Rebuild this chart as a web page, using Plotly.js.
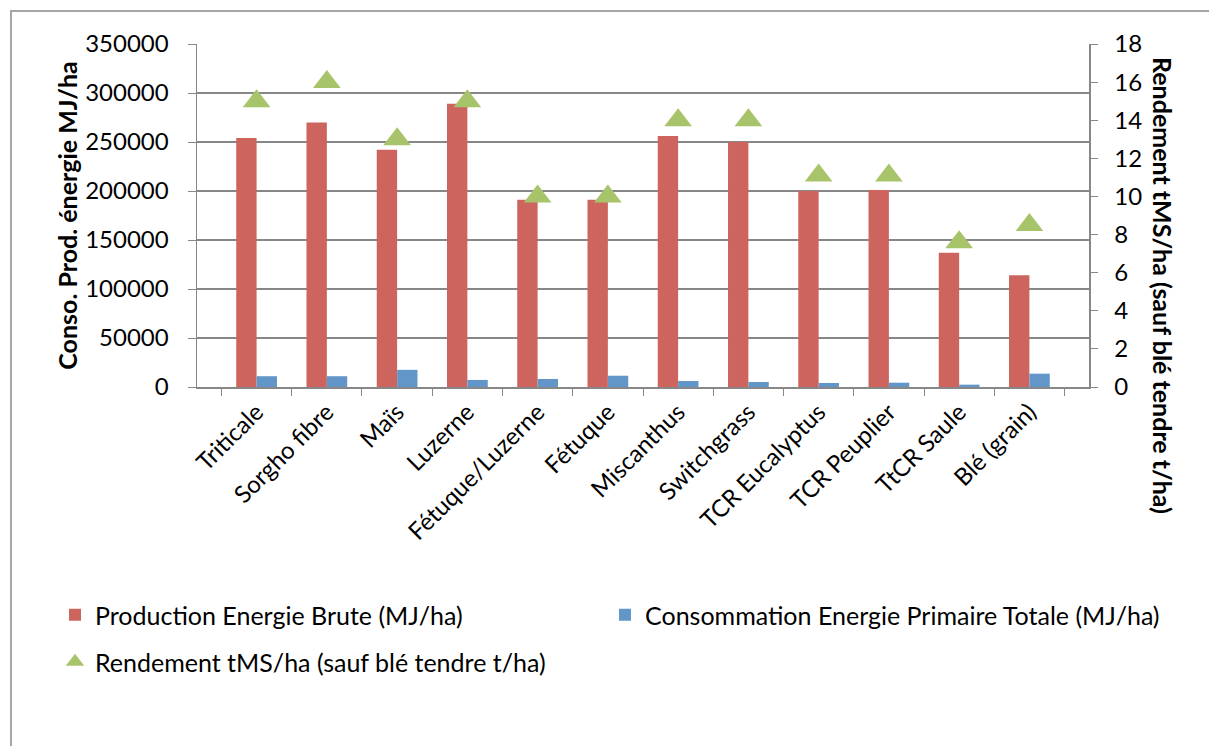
<!DOCTYPE html>
<html>
<head>
<meta charset="utf-8">
<script src="https://cdn.plot.ly/plotly-3.0.1.min.js"></script>
<style>html,body{margin:0;padding:0;background:#fff;}#chart{width:1209px;height:746px;}</style>
</head>
<body>
<div id="chart"></div>
<script>
const categories = ["Triticale", "Sorgho fibre", "Maïs", "Luzerne", "Fétuque/Luzerne", "Fétuque", "Miscanthus", "Switchgrass", "TCR Eucalyptus", "TCR Peuplier", "TtCR Saule", "Blé (grain)"];
const productionBrute = [254000, 270000, 242000, 289000, 191000, 191000, 256000, 250000, 200000, 201000, 137000, 114000];
const consoPrimaire = [11000, 11000, 17500, 7200, 8200, 11500, 6100, 5100, 4100, 4400, 2400, 13600];
const rendement = [15, 16, 13, 15, 10, 10, 14, 14, 11.1, 11.1, 7.6, 8.5];
const leftTicks = [0, 50000, 100000, 150000, 200000, 250000, 300000, 350000];
const rightTicks = [0, 2, 4, 6, 8, 10, 12, 14, 16, 18];

const FONT = "Lato, 'Open Sans', sans-serif";
const W = 1209, H = 746;
const PL = 197, PR = 1089, PT = 44, PB = 387;
const px2x = p => (p - PL) / (PR - PL);
const py2y = p => (PB - p) / (PB - PT);

const traces = [
  {type: "bar", name: "Production Energie Brute (MJ/ha)", x: categories, y: productionBrute,
   marker: {color: "rgb(205,101,94)"}, legend: "legend", yaxis: "y", showlegend: true},
  {type: "bar", name: "Consommation Energie Primaire Totale (MJ/ha)", x: categories, y: consoPrimaire,
   marker: {color: "rgb(98,150,200)"}, legend: "legend2", yaxis: "y", showlegend: true},
  {type: "scatter", mode: "markers", name: "Rendement tMS/ha (sauf blé tendre t/ha)", x: categories, y: rendement,
   marker: {symbol: "triangle-up", size: 24, color: "rgb(168,196,106)", line: {width: 0}},
   legend: "legend3", yaxis: "y2", showlegend: true}
];

const gridGray = "rgb(135,135,135)";
const TICKF = {family: FONT, size: 24, color: "#000"};
const legendBase = {orientation: "h", xref: "container", yref: "container", xanchor: "left", yanchor: "middle",
  font: {family: FONT, size: 25, color: "#000"}, bgcolor: "rgba(0,0,0,0)", borderwidth: 0, itemwidth: 30};

const layout = {
  width: W, height: H,
  showlegend: true,
  margin: {l: PL, r: W - PR, t: PT, b: H - PB},
  paper_bgcolor: "#fff", plot_bgcolor: "#fff",
  font: {family: FONT, size: 24, color: "#000"},
  barmode: "group", bargap: 0.42, bargroupgap: 0,
  xaxis: {type: "category", tickangle: -45, tickson: "boundaries", ticks: "outside", ticklen: 7,
    tickcolor: gridGray, showline: true, linecolor: gridGray, linewidth: 1.5, showgrid: false,
    tickfont: TICKF, automargin: false},
  yaxis: {range: [0, 350000], tickvals: leftTicks, ticktext: leftTicks.map(String), ticks: "outside", ticklen: 8,
    tickcolor: gridGray, showline: true, linecolor: gridGray, linewidth: 1.5, showgrid: true,
    gridcolor: gridGray, gridwidth: 1.6, zeroline: false, tickfont: TICKF, ticklabelstandoff: 14,
    title: {text: "<b>Conso. Prod. énergie MJ/ha</b>", font: {family: FONT, size: 25, color: "#000"}, standoff: 0},
    automargin: false},
  yaxis2: {range: [0, 18], tickvals: rightTicks, ticktext: rightTicks.map(String), overlaying: "y", side: "right",
    ticks: "outside", ticklen: 7, tickcolor: gridGray, showline: true, linecolor: gridGray, linewidth: 1.5,
    showgrid: false, zeroline: false, tickfont: TICKF, ticklabelstandoff: 12, automargin: false},
  legend: Object.assign({}, legendBase, {x: 55 / W, y: 1 - 615 / H}),
  legend2: Object.assign({}, legendBase, {x: 605 / W, y: 1 - 615 / H}),
  legend3: Object.assign({}, legendBase, {x: 55 / W, y: 1 - 662 / H}),
  annotations: [{
    text: "<b>Rendement tMS/ha (sauf blé tendre t/ha)</b>", textangle: 90,
    xref: "paper", yref: "paper", x: px2x(1163), y: py2y(285), xanchor: "center", yanchor: "middle",
    showarrow: false, font: {family: FONT, size: 25, color: "#000"}
  }],
  shapes: [{type: "rect", xref: "paper", yref: "paper", x0: px2x(11), x1: px2x(1230), y0: py2y(770), y1: py2y(11),
    line: {color: "rgb(166,166,166)", width: 2}, fillcolor: "rgba(0,0,0,0)", layer: "below"}]
};

Plotly.newPlot("chart", traces, layout, {displayModeBar: false, staticPlot: true});
</script>
</body>
</html>
